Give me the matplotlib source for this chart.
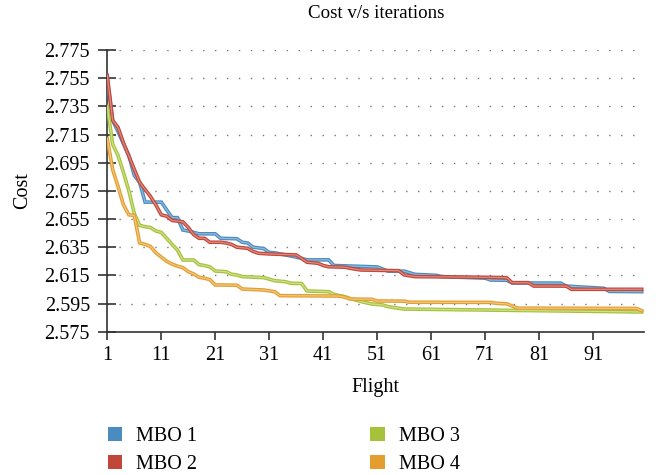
import matplotlib
matplotlib.use("Agg")
import matplotlib.pyplot as plt
import matplotlib.patheffects as pe
from matplotlib.patches import Patch

plt.rcParams['font.family'] = ['Liberation Serif', 'DejaVu Serif']

# flight number / cost at the corners of each curve
f1 = [1, 2, 3, 5, 6, 7, 8, 11, 13, 14, 15, 16, 18, 21, 22, 25, 26, 27, 28, 30, 31, 32,
      36, 38, 42, 43, 51, 53, 56, 58, 62, 63, 71, 72, 75, 76, 85, 86, 93, 94, 100]
c1 = [2.754, 2.725, 2.717, 2.700, 2.686, 2.681, 2.667, 2.667, 2.656, 2.656, 2.6472,
      2.6465, 2.6445, 2.6445, 2.6413, 2.641, 2.6385, 2.638, 2.635, 2.634, 2.6312, 2.631,
      2.628, 2.626, 2.626, 2.622, 2.621, 2.618, 2.618, 2.6157, 2.615, 2.6141, 2.613,
      2.6117, 2.6115, 2.6096, 2.6095, 2.6074, 2.6058, 2.6036, 2.6034]

f2 = [1, 2, 3, 4, 7, 8, 9, 10, 11, 12, 13, 15, 16, 17, 18, 19, 20, 22, 23, 24, 25, 27,
      28, 29, 31, 36, 37, 38, 40, 41, 42, 45, 46, 48, 55, 56, 58, 72, 75, 76, 79, 80,
      86, 87, 100]
c2 = [2.757, 2.725, 2.720, 2.709, 2.681, 2.676, 2.671, 2.665, 2.658, 2.657, 2.654,
      2.653, 2.649, 2.644, 2.6413, 2.6413, 2.6385, 2.6385, 2.638, 2.637, 2.635, 2.6342,
      2.632, 2.6307, 2.6302, 2.6295, 2.627, 2.6243, 2.6236, 2.622, 2.6211, 2.6208,
      2.620, 2.6188, 2.6183, 2.6153, 2.6141, 2.6136, 2.6133, 2.6098, 2.6098, 2.6074,
      2.6074, 2.6051, 2.6051]

f3 = [1, 2, 3, 4, 5, 6, 7, 8, 9, 10, 11, 12, 13, 14, 15, 17, 18, 19, 20, 21, 23, 24,
      25, 26, 30, 32, 34, 35, 37, 38, 42, 43, 44, 45, 46, 47, 49, 50, 52, 53, 55, 56, 100]
c3 = [2.735, 2.708, 2.700, 2.688, 2.675, 2.659, 2.6505, 2.6495, 2.649, 2.6465, 2.6455,
      2.6413, 2.637, 2.633, 2.6259, 2.6259, 2.6226, 2.622, 2.621, 2.6181, 2.6176,
      2.6158, 2.6153, 2.6141, 2.6134, 2.6112, 2.6105, 2.6094, 2.6092, 2.6039, 2.6034,
      2.6015, 2.6006, 2.5999, 2.5985, 2.5975, 2.5955, 2.5947, 2.594, 2.5928, 2.5916,
      2.5911, 2.589]

f4 = [1, 2, 3, 4, 5, 6, 7, 8, 9, 10, 11, 12, 13, 14, 15, 16, 17, 18, 19, 20, 21, 25,
      26, 30, 32, 33, 44, 45, 46, 50, 51, 56, 57, 72, 73, 75, 77, 99, 100]
c4 = [2.712, 2.690, 2.678, 2.665, 2.658, 2.6575, 2.638, 2.637, 2.6355, 2.631, 2.628,
      2.625, 2.623, 2.6215, 2.6205, 2.6176, 2.616, 2.6136, 2.613, 2.612, 2.6082, 2.608,
      2.6053, 2.6046, 2.6034, 2.6006, 2.6003, 2.5995, 2.5982, 2.598, 2.5968, 2.5967,
      2.5959, 2.5958, 2.5952, 2.5948, 2.5917, 2.5915, 2.5899]

names = ['MBO 1', 'MBO 2', 'MBO 3', 'MBO 4']
cols = ['#4a8cbf', '#c0473a', '#a6c13a', '#e39e2f']
light = ['#8fbbdc', '#e08a80', '#cde08a', '#f2c67e']
yticks = [2.575, 2.595, 2.615, 2.635, 2.655, 2.675, 2.695, 2.715, 2.735, 2.755, 2.775]
xticks = [1, 11, 21, 31, 41, 51, 61, 71, 81, 91]

fs = 14.5
fig = plt.figure(figsize=(6.59, 4.75), dpi=100)
ax = fig.add_axes([0.1628, 0.3017, 0.8142, 0.593])

for yv in yticks[1:]:
    ax.axhline(yv, color='#777777', lw=1.0, ls=(0, (1, 7.6)), zorder=1)

for f, c, col, lc in zip([f1, f2, f3, f4], [c1, c2, c3, c4], cols, light):
    ax.plot(f, c, color=col, lw=2.6, zorder=3, solid_joinstyle='miter',
            path_effects=[pe.Stroke(linewidth=2.6, foreground=col),
                          pe.Stroke(linewidth=0.9, foreground=lc)])

ax.set_xlim(1, 100.4)
ax.set_ylim(2.575, 2.775)
ax.set_yticks(yticks)
ax.set_yticklabels(['%.3f' % v for v in yticks])
ax.set_xticks(xticks)

for s in ['top', 'right']:
    ax.spines[s].set_visible(False)
for s in ['left', 'bottom']:
    ax.spines[s].set_color('#333333')
    ax.spines[s].set_linewidth(1.2)
ax.tick_params(axis='y', direction='inout', length=13, width=1.2, color='#333333',
               labelsize=fs, pad=6)
ax.tick_params(axis='x', direction='out', length=6, width=1.2, color='#333333',
               labelsize=fs, pad=4)

fig.text(0.571, 0.971, 'Cost v/s iterations', fontsize=13.6, ha='center', va='center')
ax.set_xlabel('Flight', fontsize=fs, labelpad=10)
ax.set_ylabel('Cost', fontsize=fs, labelpad=9)

handles = [Patch(facecolor=col, edgecolor='none') for col in cols]
fig.legend(handles, names, loc='upper left', bbox_to_anchor=(0.164, 0.101),
           ncol=2, frameon=False, fontsize=fs, handlelength=0.7, handleheight=0.7,
           handletextpad=0.7, columnspacing=8.6, labelspacing=0.42,
           borderaxespad=0, borderpad=0)

fig.savefig('out.png', dpi=100)
